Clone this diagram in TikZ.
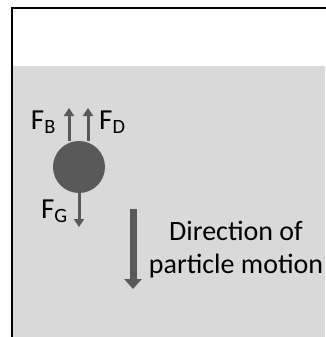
\documentclass[tikz,border=0pt]{standalone}
\usepackage{fontspec}
\setmainfont{Carlito}
\usetikzlibrary{
    arrows.meta
}

\definecolor{fluid}{HTML}{D9D9D9}
\definecolor{dark}{HTML}{595959}

\tikzset{
    force/.style={draw=dark, line width=3pt, -{Triangle[width=10pt,length=8pt]}},
    flabel/.style={font=\fontsize{29}{34}\selectfont, inner sep=0pt},
}

\begin{document}
\begin{tikzpicture}[x=1pt,y=-1pt]

\useasboundingbox (0,0) rectangle (325,337);

% Fluid
\fill[fluid] (12,66) rectangle (325,337);

% Container
\draw[line width=2.8pt] (12,337) -- (12,8) -- (326,8);

% Particle
\node[circle, fill=dark, minimum size=52pt, inner sep=0pt] (particle) at (79,167) {};

% Forces
\coordinate (fb) at (69,108);
\coordinate (fd) at (88,108);
\coordinate (fg) at (79,227);
\draw[force] ([xshift=-10pt]particle.north) -- (fb);
\draw[force] ([xshift=9pt]particle.north) -- (fd);
\draw[force] (particle.south) -- (fg);

% Labels
\node[flabel, anchor=base east] (lb) at (56,129) {F\textsubscript{B}};
\node[flabel, anchor=base west] (ld) at (99,129) {F\textsubscript{D}};
\node[flabel, anchor=base east] (lg) at (68,218) {F\textsubscript{G}};

% Direction of motion
\coordinate (mtop) at (133,209);
\coordinate (mbot) at (133,289);
\draw[draw=dark, line width=7pt, -{Triangle[width=17pt,length=10pt]}] (mtop) -- (mbot);
\node[flabel, font=\fontsize{28}{33}\selectfont, align=center] (motion) at (236,250) {Direction of\\particle motion};

\end{tikzpicture}
\end{document}
